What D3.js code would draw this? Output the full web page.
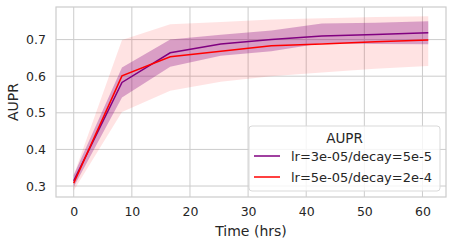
<!DOCTYPE html>
<html>
<head>
<meta charset="utf-8">
<script src="https://cdn.jsdelivr.net/npm/d3@7"></script>
<style>
  body { margin: 0; background: #fff; }
  text { font-family: "DejaVu Sans", sans-serif; fill: #262626; }
</style>
</head>
<body>
<div id="canvas"></div>
<script>
// hours of training
const hours = [0, 8.3, 16.6, 25.3, 34, 42.7, 51.9, 61];

// lr=3e-05/decay=5e-5
const purpleMean = [0.314, 0.583, 0.664, 0.688, 0.700, 0.710, 0.714, 0.719];
const purpleLow = [0.297, 0.542, 0.626, 0.656, 0.668, 0.690, 0.688, 0.687];
const purpleHigh = [0.330, 0.624, 0.700, 0.713, 0.725, 0.744, 0.746, 0.750];

// lr=5e-05/decay=2e-4
const redMean = [0.308, 0.601, 0.653, 0.668, 0.683, 0.688, 0.694, 0.699];
const redLow = [0.288, 0.502, 0.560, 0.585, 0.600, 0.610, 0.620, 0.628];
const redHigh = [0.330, 0.699, 0.742, 0.748, 0.755, 0.758, 0.762, 0.764];

const xTicks = [0, 10, 20, 30, 40, 50, 60];
const yTicks = [0.3, 0.4, 0.5, 0.6, 0.7];
const seriesNames = ["lr=3e-05/decay=5e-5", "lr=5e-05/decay=2e-4"];

const width = 453;
const height = 246;
const margin = { top: 7, left: 56, bottom: 49, right: 7 };
const iwidth = width - margin.left - margin.right;
const iheight = height - margin.top - margin.bottom;

const svg = d3.select("#canvas").append("svg").attr("width", width).attr("height", height);
const g = svg.append("g").attr("transform", `translate(${margin.left},${margin.top})`);

const x = d3.scaleLinear().domain([-3.05, 64.05]).range([0, iwidth]);
const y = d3.scaleLinear().domain([0.27, 0.789]).range([iheight, 0]);

// grid
g.selectAll(".xgrid").data(xTicks).enter().append("line")
  .attr("x1", (d) => x(d)).attr("x2", (d) => x(d))
  .attr("y1", 0).attr("y2", iheight)
  .style("stroke", "#cccccc").style("stroke-width", 1);
g.selectAll(".ygrid").data(yTicks).enter().append("line")
  .attr("y1", (d) => y(d)).attr("y2", (d) => y(d))
  .attr("x1", 0).attr("x2", iwidth)
  .style("stroke", "#cccccc").style("stroke-width", 1);

const area = (lo, hi) => d3.area()
  .x((d, i) => x(hours[i]))
  .y0((d, i) => y(lo[i]))
  .y1((d, i) => y(hi[i]))(hours);
const line = (vals) => d3.line()
  .x((d, i) => x(hours[i]))
  .y((d, i) => y(vals[i]))(hours);

g.append("path").attr("d", area(redLow, redHigh)).style("fill", "red").style("opacity", 0.11);
g.append("path").attr("d", area(purpleLow, purpleHigh)).style("fill", "purple").style("opacity", 0.3);
g.append("path").attr("d", line(purpleMean)).style("fill", "none").style("stroke", "purple").style("stroke-width", 1.5);
g.append("path").attr("d", line(redMean)).style("fill", "none").style("stroke", "red").style("stroke-width", 1.5);

// frame
g.append("rect").attr("width", iwidth).attr("height", iheight)
  .style("fill", "none").style("stroke", "#cccccc").style("stroke-width", 1.2);

// axes
const xAxis = g.append("g").attr("transform", `translate(0, ${iheight})`)
  .call(d3.axisBottom(x).tickValues(xTicks).tickSize(0).tickPadding(10).tickFormat(d3.format("d")));
const yAxis = g.append("g")
  .call(d3.axisLeft(y).tickValues(yTicks).tickSize(0).tickPadding(10).tickFormat(d3.format(".1f")));
[xAxis, yAxis].forEach((a) => {
  a.select(".domain").remove();
  a.selectAll("text").style("font-size", "12.5px").style("fill", "#262626").style("font-family", "DejaVu Sans");
});

svg.append("text").attr("x", margin.left + iwidth / 2).attr("y", 236)
  .attr("text-anchor", "middle").style("font-size", "14px").text("Time (hrs)");
svg.append("text").attr("transform", `translate(18, ${margin.top + iheight / 2}) rotate(-90)`)
  .attr("text-anchor", "middle").style("font-size", "14px").text("AUPR");

// legend
const lg = svg.append("g").attr("transform", "translate(249, 126)");
lg.append("rect").attr("width", 191).attr("height", 65).attr("rx", 3)
  .style("fill", "white").style("fill-opacity", 0.8).style("stroke", "#d9d9d9").style("stroke-width", 1);
lg.append("text").attr("x", 95.5).attr("y", 17).attr("text-anchor", "middle")
  .style("font-size", "13.5px").text("AUPR");
const legendColors = ["purple", "red"];
seriesNames.forEach((name, i) => {
  const yy = 30 + i * 21;
  lg.append("line").attr("x1", 5).attr("x2", 31).attr("y1", yy).attr("y2", yy)
    .style("stroke", legendColors[i]).style("stroke-width", 1.5);
  lg.append("text").attr("x", 42).attr("y", yy + 4.5).style("font-size", "13px").text(name);
});
</script>
</body>
</html>
